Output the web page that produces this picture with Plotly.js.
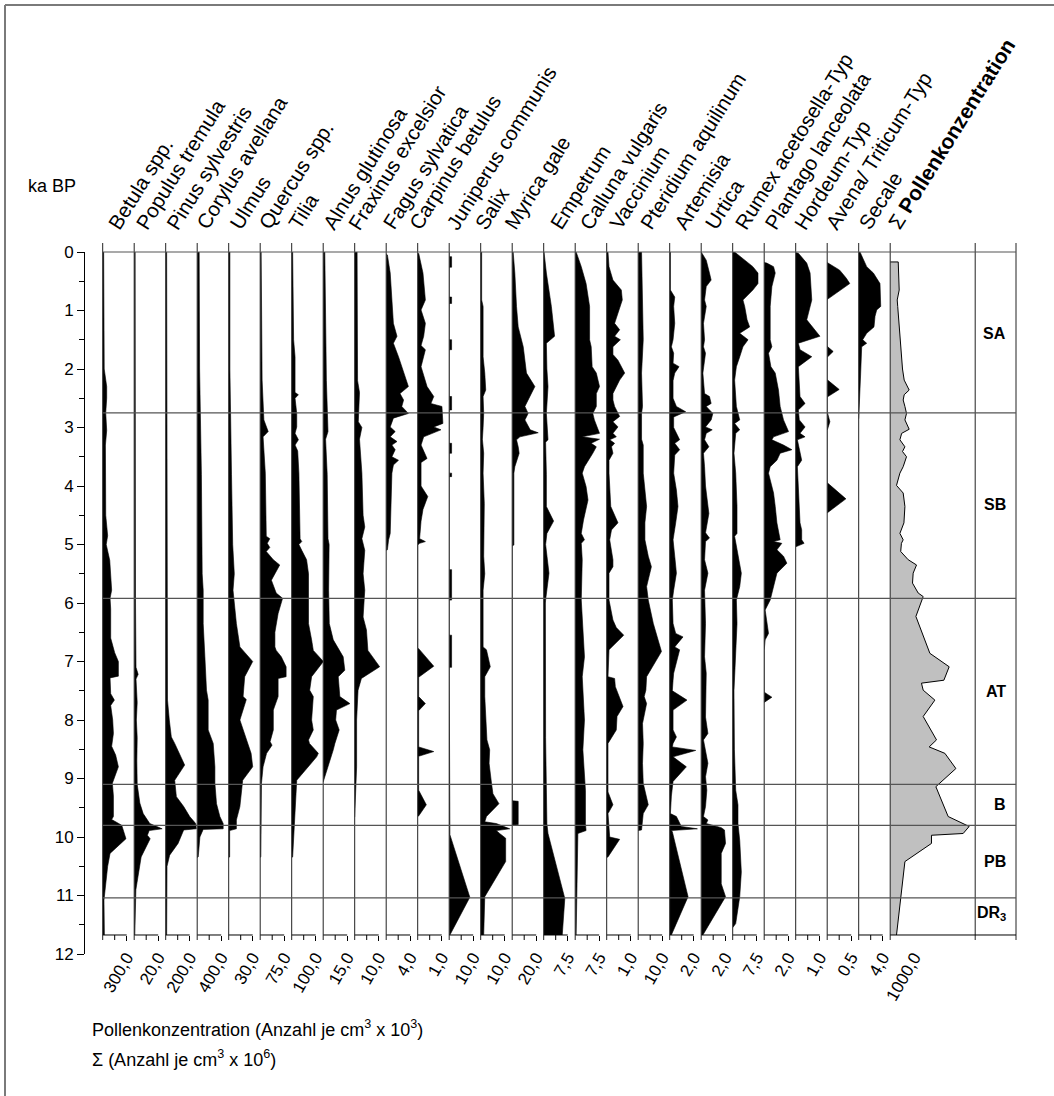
<!DOCTYPE html>
<html><head><meta charset="utf-8">
<script src="https://cdn.plot.ly/plotly-3.0.1.min.js"></script>
<style>html,body{margin:0;padding:0;background:#fff}#chart{width:1054px;height:1096px}</style>
</head><body><div id="chart"></div>
<script>
// ---------------- DATA (age ka BP, concentration) ----------------
const taxa = ['Betula spp.','Populus tremula','Pinus sylvestris','Corylus avellana','Ulmus','Quercus spp.','Tilia','Alnus glutinosa','Fraxinus excelsior','Fagus sylvatica','Carpinus betulus','Juniperus communis','Salix','Myrica gale','Empetrum','Calluna vulgaris','Vaccinium','Pteridium aquilinum','Artemisia','Urtica','Rumex acetosella-Typ','Plantago lanceolata','Hordeum-Typ','Avena/ Triticum-Typ','Secale'];
const scaleMax = [300,20,200,400,30,75,100,15,10,4,1,10,10,20,7.5,7.5,1,10,2,2,7.5,2,1,0.5,4];
const scaleLabels = ['300,0','20,0','200,0','400,0','30,0','75,0','100,0','15,0','10,0','4,0','1,0','10,0','10,0','20,0','7,5','7,5','1,0','10,0','2,0','2,0','7,5','2,0','1,0','0,5','4,0'];
const sumMax = 1000, sumLabel = '1000,0';
const zoneNames = ['SA','SB','AT','B','PB','DR<sub>3</sub>'];
const zoneLabelAges = [1.39,4.32,7.52,9.45,10.42,11.31];
const zoneBounds = [2.75,5.92,9.1,9.8,11.04];

const betula = [[0,12],[1,19],[2,19],[2.3,50],[2.5,50],[2.75,38],[3.05,50],[3.3,34],[4.5,38],[4.85,62],[5,44],[5.27,88],[5.5,100],[5.78,112],[5.92,92],[6.1,100],[6.6,100],[6.85,150],[7,196],[7.25,196],[7.28,92],[7.55,100],[7.66,146],[7.75,100],[8,125],[8.23,134],[8.45,112],[8.6,162],[8.8,196],[8.95,154],[9.08,121],[9.3,134],[9.65,134],[9.7,112],[9.8,238],[10.03,291],[10.28,92],[10.5,62],[10.74,41],[11.08,16],[11.675,21]];
const populus = [[0,0.8],[3,0.8],[5.8,1],[6,1.1],[7.1,1.5],[7.22,3.3],[7.3,1.5],[7.7,2.5],[8,1.8],[8.3,2.5],[8.7,2.2],[9.1,2.5],[9.42,4.7],[9.6,7.5],[9.77,13],[9.86,23.3],[9.89,12.5],[9.97,11],[10.03,13.3],[10.17,10],[10.34,5.8],[10.9,1.4],[11.675,0.5]];
const pinus = [[0,8],[4,10],[7,11],[7.66,15],[8,30],[8.29,47],[8.4,75],[8.77,158],[9.03,75],[9.31,89],[9.48,150],[9.65,200],[9.77,250],[9.86,255],[9.88,150],[10.11,103],[10.31,33],[10.5,11],[11.675,8]];
const corylus = [[0,33],[2,40],[3.8,70],[5.5,83],[5.78,100],[6.35,100],[6.92,128],[7.49,155],[7.66,183],[8.17,183],[8.4,267],[8.8,295],[9.08,295],[9.43,322],[9.65,378],[9.77,433],[9.86,433],[9.87,100],[10,45],[10.34,17],[10.35,0]];
const ulmus = [[0,1.5],[2,1.5],[3.8,3.5],[5,5],[5.5,7],[5.78,5.4],[6.35,9.6],[6.75,14],[7,30],[7.26,20],[7.6,18],[7.65,22],[8,14],[8.23,20],[8.57,28],[8.8,30],[9.03,17.5],[9.48,14],[9.71,9.6],[9.86,9.6],[9.89,1.2],[10.34,1.2],[10.35,0]];
const quercus = [[0,3],[2.19,6],[2.87,11.5],[3.07,25],[3.16,9],[3.33,11],[3.78,16],[4.86,19],[4.9,30],[4.98,22],[5.05,30],[5.12,19],[5.26,41],[5.35,61],[5.61,35],[5.83,50],[5.92,70],[6.18,56],[6.5,46],[6.75,46],[6.81,50],[6.92,66],[7.09,81],[7.26,81],[7.29,56],[7.6,56],[7.83,41],[8.17,41],[8.37,31],[8.43,37],[8.57,20],[8.8,9],[9.08,4],[10.34,2],[10.35,0]];
const tilia = [[0,4],[1.5,8],[1.79,14],[2.4,14],[2.44,28],[2.5,14],[2.76,21],[2.99,21],[3.1,14],[3.21,28],[3.3,14],[3.4,25],[3.78,30],[4.52,35],[4.9,35],[4.95,42],[5,30],[5.1,42],[5.26,62],[5.5,70],[5.78,70],[6.35,70],[6.63,83],[6.81,90],[7,132],[7.26,83],[7.49,75],[7.6,90],[8,83],[8.17,90],[8.34,70],[8.4,74],[8.57,111],[8.63,104],[9.03,21],[10.34,4],[10.35,0]];
const alnus = [[0,1],[2.2,2],[3.07,3],[3.2,1.5],[3.8,2.5],[4.9,3],[5,3.7],[5.5,3.5],[5.78,3.4],[6.35,3.8],[6.63,6.3],[6.92,12.5],[7.15,13.5],[7.26,9.4],[7.6,10.4],[7.72,16.7],[7.83,8.3],[8,7.8],[8.17,10],[8.4,7.3],[8.51,6.3],[8.97,1],[9.05,0.5],[9.06,0]];
const fraxinus = [[0,1],[2.2,1.2],[2.4,2],[2.9,1.5],[3,3],[3.2,2],[3.78,3],[4.5,3.5],[4.7,4.2],[4.9,3],[5.1,4.2],[5.5,3.5],[5.78,4.2],[6.24,3.5],[6.46,4.9],[6.81,5.5],[7.09,10.4],[7.29,2.8],[7.49,1.4],[8,0.8],[8.8,0.8],[9.43,0.3],[9.65,0.3],[9.66,0]];
const fagus = [[0.04,0],[0.05,0.2],[0.36,0.67],[0.93,0.95],[1.22,1.2],[1.44,1.8],[1.56,1.2],[1.79,2.05],[1.96,2.6],[2.3,3.7],[2.42,2.3],[2.53,2.9],[2.64,2.6],[2.76,3.7],[2.84,1.2],[2.99,0.67],[3.07,1.5],[3.16,0.67],[3.24,1.8],[3.3,0.95],[3.38,1.5],[3.5,0.95],[3.56,2.05],[3.64,1.2],[3.78,0.95],[4.35,0.83],[4.81,0.67],[4.92,0.4],[5.09,0.2],[5.1,0]];
const carpinus = [[0.02,0.04],[0.36,0.22],[0.82,0.32],[0.99,0.14],[1.22,0.32],[1.44,0.25],[1.6,0.14],[1.67,0.32],[1.96,0.14],[2.3,0.39],[2.47,0.67],[2.59,0.55],[2.64,1.01],[2.93,1.05],[2.99,0.67],[3.04,0.97],[3.16,0.25],[3.3,0.14],[3.53,0.39],[3.6,0.14],[4,0.14],[4.18,0.42],[4.4,0.22],[4.6,0.14],[4.9,0.08],[4.95,0.32],[4.98,0.08],[5.01,0],[6.77,0],[6.78,0.04],[7.08,0.67],[7.27,0.04],[7.6,0.04],[7.72,0.32],[7.84,0.04],[8.46,0.04],[8.54,0.67],[8.62,0.04],[9.2,0.04],[9.45,0.36],[9.64,0.04],[9.65,0]];
const juniperus = [[0,0],[0.08,0],[0.08,1],[0.26,1],[0.26,0],[0.77,0],[0.77,1],[0.88,1],[0.88,0],[1.5,0],[1.5,1],[1.67,1],[1.67,0],[2.47,0],[2.47,1],[2.7,1],[2.7,0],[3.27,0],[3.27,1],[3.44,1],[3.44,0],[3.78,0],[3.78,1],[3.84,1],[3.84,0],[5.43,0],[5.43,1],[5.95,1],[5.95,0],[6.55,0],[6.55,1],[7.1,1],[7.1,0],[9.95,0],[9.96,0.3],[11.03,8.6],[11.675,0.3]];
const salix = [[0,0.4],[0.82,0.4],[0.93,1],[1.5,1],[1.79,1],[2.07,1.7],[2.36,2.1],[2.47,1],[2.76,1.25],[3,1],[3.2,0.7],[3.44,1.25],[3.78,1],[4.3,1.5],[4.92,1.2],[5.2,1.25],[5.5,1.7],[5.78,1],[6.75,1],[6.8,2.4],[7.09,4],[7.26,1.7],[7.6,1.7],[8.06,2.4],[8.34,2.6],[8.51,3.75],[8.74,3.5],[9.08,4.5],[9.26,5.1],[9.43,7.6],[9.65,2.4],[9.74,1.7],[9.77,6.5],[9.86,12.1],[9.89,6.5],[9.94,7.9],[10.02,10.4],[10.42,10.4],[11.02,1.7],[11.675,1.25]];
const myrica = [[0,0.8],[0.36,2.2],[0.93,3.6],[1.28,5],[1.62,9.2],[1.85,10.6],[2.07,11.9],[2.3,18.9],[2.53,13.3],[2.64,10.6],[2.76,13.3],[2.87,10.6],[3.04,15],[3.09,21.7],[3.16,6.4],[3.21,3.6],[3.33,5],[3.44,5.8],[3.67,2.2],[3.78,1.4],[5.01,1.4],[5.02,0],[9.38,0],[9.39,5],[9.79,5],[9.8,0]];
const empetrum = [[0,0.1],[0.36,0.84],[0.93,2.4],[1.22,3.1],[1.44,3.4],[1.56,0.84],[2,1],[2.3,1.35],[2.76,0.84],[3.21,1.35],[3.25,0.6],[3.8,0.84],[4.35,0.84],[4.6,3.1],[4.81,1],[5,0.6],[5.49,1.65],[5.95,0.6],[6,0.53],[8.3,0.6],[9.77,1],[9.94,1.35],[11.05,6.6],[11.675,5.8]];
const calluna = [[0,0.3],[0.25,1.9],[0.54,3.4],[0.93,4.5],[1.5,4.5],[1.62,5],[1.96,5.3],[2.07,6.6],[2.3,7.6],[2.42,6.6],[2.64,6.6],[2.76,5.5],[2.87,6],[3.1,7.6],[3.16,2.2],[3.2,7.6],[3.27,5],[3.33,6.6],[3.44,5.5],[3.67,2.9],[3.78,2.2],[4.01,3.4],[4.24,4],[4.58,2.6],[4.81,1.9],[4.92,2.9],[4.98,1.9],[5.26,2.2],[5.95,1.9],[6.35,2.4],[6.92,2.9],[7.26,2.2],[8,2.9],[8.51,2.4],[9.2,3.2],[9.77,3.2],[9.89,3.4],[9.94,0.84],[11.675,0.3]];
const vaccinium = [[0,0.054],[0.25,0.096],[0.48,0.26],[0.65,0.61],[0.82,0.65],[1.05,0.47],[1.22,0.33],[1.33,0.54],[1.44,0.33],[1.5,0.57],[1.62,0.26],[1.75,0.26],[1.85,0.47],[2.07,0.75],[2.19,0.54],[2.42,0.26],[2.53,0.26],[2.64,0.33],[2.81,0.54],[2.9,0.26],[2.99,0.47],[3.1,0.26],[3.16,0.4],[3.21,0.125],[3.27,0.33],[3.33,0.2],[3.44,0.26],[3.56,0.096],[3.78,0.096],[4.35,0.17],[4.63,0.47],[4.75,0.2],[4.92,0.125],[5.26,0.26],[5.38,0.26],[5.49,0.096],[5.95,0.096],[6.29,0.26],[6.42,0.4],[6.55,0.71],[6.8,0.096],[7.26,0.054],[7.29,0.33],[7.43,0.36],[7.77,0.68],[7.94,0.43],[8.17,0.4],[8.4,0.054],[9.23,0.054],[9.45,0.26],[9.6,0.054],[10,0.125],[10.04,0.54],[10.34,0.054],[10.35,0]];
const pteridium = [[0,1.4],[1,1.8],[1.5,2.1],[2.07,1.4],[2.64,1.8],[2.76,1.4],[3.2,1.4],[3.3,2.1],[3.78,2.1],[4.35,3.5],[4.63,2.8],[4.92,2.8],[5.2,4.2],[5.38,5.5],[5.72,3.5],[5.95,4.2],[6.35,6.3],[6.83,9.7],[7.26,3.5],[7.49,3.2],[7.6,2.5],[7.72,3.5],[8.06,1.8],[8.4,2.1],[8.74,1.8],[9.08,2.1],[9.45,4.2],[9.6,2.1],[9.77,1.8],[9.88,1.4],[9.89,0]];
const artemisia = [[0,0.06],[0.65,0.06],[0.77,0.42],[0.93,0.33],[1.22,0.42],[1.5,0.28],[1.62,0.14],[1.73,0.33],[1.9,0.28],[1.96,0.78],[2.07,0.42],[2.2,0.28],[2.5,0.28],[2.64,0.56],[2.73,1.33],[2.82,0.33],[3,0.33],[3.21,0.83],[3.27,0.42],[3.38,0.83],[3.47,0.42],[3.78,0.33],[4.07,0.56],[4.35,0.69],[4.63,0.5],[4.92,0.28],[5.2,0.42],[5.49,0.56],[5.78,0.33],[5.95,0.22],[6.35,0.28],[6.52,0.5],[6.58,1.11],[6.75,0.42],[6.8,0.83],[7.2,0.33],[7.32,0.28],[7.5,0.22],[7.66,1.44],[7.83,0.28],[8.17,0.28],[8.29,0.56],[8.4,0.28],[8.46,0.22],[8.52,2.17],[8.63,0.28],[8.8,1.39],[9.05,0.28],[9.3,0.14],[9.6,0.06],[9.65,0.56],[9.82,0.97],[9.86,2.31],[9.89,0.14],[9.91,0.22],[11.02,1.53],[11.675,0.14]];
const urtica = [[0,0],[0.14,0.42],[0.36,0.69],[0.48,0.83],[0.59,0.42],[0.82,0.28],[0.93,0.42],[1.22,0.19],[1.5,0.28],[1.62,0.19],[1.73,0.36],[2.07,0.14],[2.42,0.28],[2.47,0.69],[2.59,0.83],[2.64,0.42],[2.76,0.97],[2.87,0.83],[2.99,0.36],[3.04,0.92],[3.1,0.42],[3.21,0.28],[3.33,0.64],[3.44,0.19],[3.67,0.28],[4,0.36],[4.47,0.64],[4.8,0.36],[4.89,0.69],[4.95,0.36],[5.26,0.28],[5.49,0.56],[5.78,0.28],[6.35,0.36],[6.92,0.28],[7.2,0.42],[7.95,0.36],[8.23,0.56],[8.34,0.19],[8.45,0.28],[8.74,0.56],[8.97,0.36],[9.2,0.47],[9.48,0.36],[9.65,0.19],[9.71,0.56],[9.77,0.42],[9.84,1.67],[9.88,1.94],[10.11,2.03],[10.28,1.67],[10.8,1.67],[11.02,2.03],[11.675,0.14]];
const rumex = [[0,0.6],[0.14,3.75],[0.25,6.3],[0.36,7.9],[0.54,7.9],[0.65,6.3],[0.82,3.2],[0.93,3.75],[1.16,4.5],[1.28,5.3],[1.39,2.2],[1.5,4.8],[1.62,3.2],[1.79,2.2],[1.96,1.15],[2.19,0.6],[2.64,1.15],[2.87,2.2],[2.93,0.6],[3.04,2.2],[3.1,0.94],[3.44,0.4],[3.78,0.94],[4.35,1.35],[4.81,1.35],[4.86,0.6],[5.2,1.65],[5.49,2.7],[5.72,2.2],[5.95,1.15],[6.35,1.35],[7.5,0.4],[8.5,0.53],[9.2,0.94],[9.45,1.65],[9.77,1.65],[10.06,2.2],[10.6,2.7],[11.02,2.2],[11.48,0.94],[11.55,0]];
const plantago = [[0.18,0],[0.19,0.22],[0.25,0.78],[0.36,0.92],[0.59,0.64],[0.93,0.5],[1.5,0.5],[1.62,0.64],[1.73,0.36],[1.96,0.56],[2.07,0.92],[2.36,1.19],[2.64,1.33],[2.87,1.61],[3.07,2.03],[3.16,0.78],[3.21,0.64],[3.3,1.61],[3.38,2.31],[3.44,1.33],[3.56,1.06],[3.67,0.5],[3.78,0.36],[4.12,0.78],[4.35,0.92],[4.63,1.06],[4.92,1.33],[4.95,0.78],[4.98,1.47],[5.09,1.06],[5.2,1.61],[5.32,1.89],[5.49,1.06],[5.72,0.78],[5.95,0.5],[6.12,0.08],[6.35,0.22],[6.52,0.36],[6.63,0.08],[6.8,0.03],[6.81,0],[7.52,0],[7.53,0.04],[7.61,0.64],[7.69,0.04],[7.7,0]];
const hordeum = [[0.01,0],[0.02,0.11],[0.19,0.46],[0.36,0.6],[0.82,0.67],[1.16,0.46],[1.44,1.01],[1.56,0.11],[1.67,0.18],[1.79,0.67],[1.96,0.11],[2.47,0.18],[2.59,0.39],[2.7,0.11],[2.87,0.15],[2.99,0.39],[3.1,0.18],[3.16,0.39],[3.21,0.07],[3.56,0.25],[3.67,0.07],[4.63,0.18],[4.75,0.25],[4.92,0.25],[4.98,0.35],[5.02,0.11],[5.04,0]];
const avena = [[0.18,0],[0.19,0.02],[0.31,0.26],[0.45,0.4],[0.54,0.47],[0.8,0.02],[0.81,0],[1.6,0],[1.62,0.01],[1.7,0.125],[1.79,0.01],[1.8,0],[2.18,0],[2.19,0.01],[2.35,0.25],[2.47,0.01],[2.48,0],[2.75,0],[2.76,0.01],[2.9,0.056],[3.04,0.01],[3.05,0],[3.94,0],[3.95,0.01],[4.22,0.39],[4.45,0.01],[4.46,0]];
const secale = [[0,0.22],[0.14,0.78],[0.25,1.33],[0.36,2.45],[0.54,3.55],[0.93,3.67],[0.99,3],[1.1,2.72],[1.28,2.55],[1.39,1.33],[1.5,0.67],[1.56,1.33],[1.62,0.5],[2.07,0.33],[2.84,0.12],[2.85,0]];
const pollenSum = [[0.17,0],[0.17,334],[0.65,375],[0.82,292],[0.93,313],[1.28,375],[1.5,403],[2,513],[2.19,583],[2.36,791],[2.44,583],[2.53,541],[2.64,613],[2.76,679],[2.87,613],[3.03,791],[3.1,478],[3.21,404],[3.33,613],[3.41,513],[3.5,679],[3.67,541],[3.78,404],[3.99,263],[4.12,541],[4.35,613],[4.63,572],[4.81,404],[4.92,541],[4.98,467],[5.12,438],[5.26,749],[5.35,1097],[5.49,957],[5.66,929],[5.83,1167],[5.89,1374],[6.23,1071],[6.86,1653],[7.09,2457],[7.32,2237],[7.37,1303],[7.49,1374],[7.66,1862],[7.94,1374],[8.34,1929],[8.46,1624],[8.57,2279],[8.83,2737],[9.14,1903],[9.65,2415],[9.82,3290],[9.94,3040],[9.97,1720],[10.11,1720],[10.42,613],[11.675,263]];

const series = [betula,populus,pinus,corylus,ulmus,quercus,tilia,alnus,fraxinus,fagus,carpinus,juniperus,salix,myrica,empetrum,calluna,vaccinium,pteridium,artemisia,urtica,rumex,plantago,hordeum,avena,secale];

// ---------------- LAYOUT GEOMETRY ----------------
const FONT = '"Liberation Sans", Arial, Helvetica, sans-serif';
const W=1054, H=1096, L=84, R=1016, T=252, B=954, PW=R-L, PH=B-T;
const xp = p => (p-L)/PW;          // pixel x -> paper
const yp = p => (B-p)/PH;          // pixel y -> paper
const ya = a => 1 - a/12;          // age -> paper
const COL0=102.7, COLW=31.5, AXLEN=24, BASE=11.675;
const SUM0 = COL0 + 25*COLW, SUMW = 85, ZONE0 = SUM0 + SUMW, ZONE1 = R;
const headerLeft = [100.7,129,159,189,222,250.7,280.7,315.7,340.7,375.7,402,439,467,497,543,572,602,633,667,697,727,757,787,818,851];
const sumHeaderLeft = 881;
const HEAD_ANGLE = -58;

const traces = [], shapes = [], annotations = [];
const layout = {
  width:W, height:H, margin:{l:L, r:W-R, t:T, b:H-B, pad:0},
  paper_bgcolor:'#fff', plot_bgcolor:'rgba(0,0,0,0)', showlegend:false,
  font:{family:FONT, color:'#000', size:16},
  yaxis:{domain:[0,1], range:[12,0], anchor:'free', position:0, side:'left',
    tick0:0, dtick:1, ticks:'outside', ticklen:7, tickwidth:1, tickcolor:'#000',
    minor:{dtick:0.5, ticks:'outside', ticklen:5, tickcolor:'#000', tickwidth:1, showgrid:false},
    showline:true, linecolor:'#000', linewidth:1, showgrid:false, zeroline:false,
    tickfont:{size:17, family:FONT, color:'#000'}, fixedrange:true}
};
const line = (x0,y0,x1,y1,color,width) => ({type:'line', xref:'paper', yref:'paper', x0, y0, x1, y1, line:{color, width}, layer:'above'});

series.forEach((s,i) => {
  const key = i===0 ? 'xaxis' : 'xaxis'+(i+1);
  const ref = i===0 ? 'x' : 'x'+(i+1);
  const x0 = COL0 + i*COLW;
  layout[key] = {
    domain:[xp(x0), xp(x0+COLW)], range:[0, scaleMax[i]*COLW/AXLEN],
    anchor:'free', position:ya(BASE),
    tickmode:'array', tickvals:[scaleMax[i]], ticktext:[scaleLabels[i]],
    ticks:'outside', ticklen:5, tickwidth:1, tickcolor:'#000', tickangle:-60,
    tickfont:{size:17, family:FONT, color:'#000'},
    showline:false, showgrid:false, zeroline:false, fixedrange:true
  };
  traces.push({type:'scatter', mode:'lines', x:s.map(p=>p[1]), y:s.map(p=>p[0]), xaxis:ref, yaxis:'y',
    fill:'tozerox', fillcolor:'#000', line:{color:'#000', width:0.6}, hoverinfo:'skip'});
  // mini scale bar with ticks at 0 and half
  shapes.push(line(xp(x0), ya(BASE), xp(x0+AXLEN), ya(BASE), '#000', 1));
  shapes.push(line(xp(x0+AXLEN/2), ya(BASE), xp(x0+AXLEN/2), yp(940), '#000', 1));
  annotations.push({xref:'paper', yref:'paper', x:xp(headerLeft[i]), y:yp(236), xanchor:'left', yanchor:'bottom',
    text:taxa[i], textangle:HEAD_ANGLE, showarrow:false, font:{size:20.5, family:FONT, color:'#000'}});
});

// sum column (scale label at the same 24 px bar length as the taxa)
layout.xaxis26 = {domain:[xp(SUM0), xp(ZONE0)], range:[0, sumMax*SUMW/AXLEN], anchor:'free', position:ya(BASE),
  tickmode:'array', tickvals:[sumMax], ticktext:[sumLabel], ticks:'outside', ticklen:5, tickcolor:'rgba(0,0,0,0)',
  tickangle:-60, tickfont:{size:17, family:FONT, color:'#000'}, showline:false, showgrid:false, zeroline:false, fixedrange:true};
traces.push({type:'scatter', mode:'lines', x:pollenSum.map(p=>p[1]), y:pollenSum.map(p=>p[0]), xaxis:'x26', yaxis:'y',
  fill:'tozerox', fillcolor:'#c0c0c0', line:{color:'#000', width:1}, hoverinfo:'skip'});
annotations.push({xref:'paper', yref:'paper', x:xp(sumHeaderLeft), y:yp(236), xanchor:'left', yanchor:'bottom',
  text:'Σ <b>Pollenkonzentration</b>', textangle:HEAD_ANGLE, showarrow:false, font:{size:21, family:FONT, color:'#000'}});

// column lines (with small ticks above the top line and below the base)
const edges = [];
for (let i=0;i<=25;i++) edges.push(COL0 + i*COLW);
edges.push(ZONE0, ZONE1);
edges.forEach(e => shapes.push(line(xp(e), yp(940), xp(e), yp(243), '#222', 1)));
shapes.push(line(xp(SUM0), ya(BASE), xp(ZONE1), ya(BASE), '#000', 1));
// top line and zone boundaries
shapes.push(line(xp(COL0), ya(0), xp(ZONE1), ya(0), '#555', 1.2));
zoneBounds.forEach(a => shapes.push(line(xp(COL0), ya(a), xp(ZONE1), ya(a), '#555', 1.2)));
// outer frame (top and left edges visible)
shapes.push(line(xp(5), yp(5), xp(1070), yp(5), '#7a7a7a', 2));
shapes.push(line(xp(5), yp(5), xp(5), yp(1110), '#7a7a7a', 2));

// zone labels
zoneNames.forEach((z,i) => annotations.push({xref:'paper', yref:'paper', x:xp(1008), y:ya(zoneLabelAges[i]),
  xanchor:'right', yanchor:'middle', text:'<b>'+z+'</b>', showarrow:false, font:{size:16, family:FONT, color:'#000'}}));

// axis caption & footnotes
annotations.push({xref:'paper', yref:'paper', x:xp(52), y:yp(186), xanchor:'center', yanchor:'middle',
  text:'ka BP', showarrow:false, font:{size:18, family:FONT, color:'#000'}});
annotations.push({xref:'paper', yref:'paper', x:xp(90), y:yp(1028), xanchor:'left', yanchor:'middle',
  text:'Pollenkonzentration (Anzahl je cm<sup>3</sup> x 10<sup>3</sup>)', showarrow:false, font:{size:18, family:FONT, color:'#000'}});
annotations.push({xref:'paper', yref:'paper', x:xp(90), y:yp(1058), xanchor:'left', yanchor:'middle',
  text:'Σ (Anzahl je cm<sup>3</sup> x 10<sup>6</sup>)', showarrow:false, font:{size:18, family:FONT, color:'#000'}});

layout.shapes = shapes;
layout.annotations = annotations;
Plotly.newPlot('chart', traces, layout, {staticPlot:true, displayModeBar:false});
</script>
</body></html>
